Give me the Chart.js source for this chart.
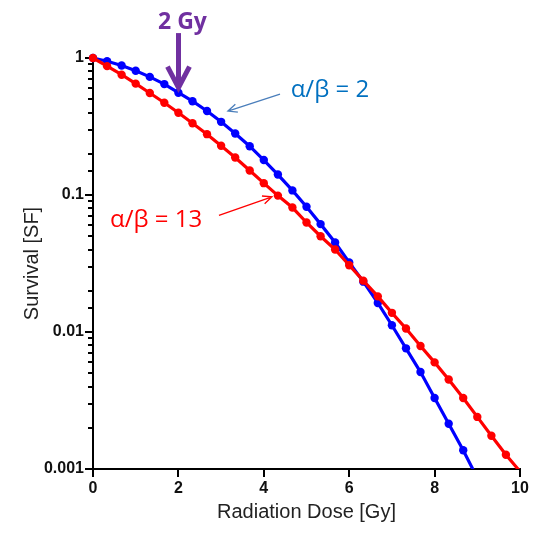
<!DOCTYPE html>
<html>
<head>
<meta charset="utf-8">
<script src="https://cdn.jsdelivr.net/npm/chart.js@4/dist/chart.umd.min.js"></script>
<style>
  html, body { margin: 0; padding: 0; background: #fff; }
  canvas { display: block; }
</style>
</head>
<body>
<canvas id="c" width="558" height="534"></canvas>
<script>
// ---- data ----
const doses = [0, 0.33, 0.67, 1, 1.33, 1.67, 2, 2.33, 2.67, 3, 3.33, 3.67, 4, 4.33, 4.67, 5,
               5.33, 5.67, 6, 6.33, 6.67, 7, 7.33, 7.67, 8, 8.33, 8.67, 9, 9.33, 9.67, 10];
const survivalAB2 = [1, 0.946, 0.881, 0.807, 0.728, 0.645, 0.558, 0.484, 0.410, 0.342, 0.281,
                     0.227, 0.180, 0.141, 0.108, 0.082, 0.0613, 0.0450, 0.0322, 0.0233, 0.0163,
                     0.0112, 0.0076, 0.0051, 0.0033, 0.00214, 0.00137, 0.00086];
const survivalAB13 = [1, 0.872, 0.755, 0.650, 0.555, 0.471, 0.398, 0.334, 0.278, 0.229, 0.188,
                      0.151, 0.122, 0.099, 0.081, 0.063, 0.050, 0.040, 0.0307, 0.0237, 0.0182,
                      0.0138, 0.0106, 0.0079, 0.0060, 0.0045, 0.0033, 0.0024, 0.00175, 0.00127, 0.00096];
const xTickValues = [0, 2, 4, 6, 8, 10];
const yTickLabels = ['0.001', '0.01', '0.1', '1'];
const seriesNames = ['α/β = 2', 'α/β = 13'];
const xTitle = 'Radiation Dose [Gy]';
const yTitle = 'Survival [SF]';
const markerDose = 2;
const markerText = '2 Gy';

// ---- helpers ----
function isPow10(v) {
  const l = Math.log10(v);
  return Math.abs(l - Math.round(l)) < 1e-6;
}
function pts(ys) {
  return ys.map((v, i) => ({ x: doses[i], y: v }));
}
function radii(ys, lastVisible) {
  return ys.map((v, i) => (i <= lastVisible ? 4.2 : 0));
}

const BLUE = '#0000ff';
const RED = '#ff0000';

const axesPlugin = {
  id: 'axes',
  beforeDatasetsDraw(chart) {
    const { ctx, chartArea: a, scales: { x, y } } = chart;
    ctx.save();
    ctx.strokeStyle = '#000';
    ctx.lineWidth = 2;
    ctx.beginPath();
    ctx.moveTo(a.left, a.top);
    ctx.lineTo(a.left, a.bottom);
    ctx.lineTo(a.right + 1, a.bottom);
    ctx.stroke();
    y.ticks.forEach(t => {
      const p = Math.round(y.getPixelForValue(t.value));
      const len = isPow10(t.value) ? 8 : 5;
      ctx.beginPath();
      ctx.moveTo(a.left - len, p);
      ctx.lineTo(a.left, p);
      ctx.stroke();
    });
    x.ticks.forEach(t => {
      const p = Math.round(x.getPixelForValue(t.value));
      ctx.beginPath();
      ctx.moveTo(p, a.bottom);
      ctx.lineTo(p, a.bottom + 8);
      ctx.stroke();
    });
    ctx.restore();
  }
};

// annotation anchors in data units (dose, survival)
const notes = {
  blueLabel: { x: 4.63, y: 0.52 },
  blueArrowFrom: { x: 4.38, y: 0.545 },
  blueArrowTo: { x: 3.16, y: 0.41 },
  redLabel: { x: 0.4, y: 0.058 },
  redArrowFrom: { x: 2.95, y: 0.071 },
  redArrowTo: { x: 4.19, y: 0.097 },
  gyLabelY: 1.64,
  gyArrowTopY: 1.52
};

function thinArrow(ctx, x1, y1, x2, y2, color) {
  const ang = Math.atan2(y2 - y1, x2 - x1);
  const h = 10, s = 0.42;
  ctx.save();
  ctx.strokeStyle = color;
  ctx.lineWidth = 1.3;
  ctx.beginPath();
  ctx.moveTo(x1, y1);
  ctx.lineTo(x2, y2);
  ctx.moveTo(x2 - h * Math.cos(ang - s), y2 - h * Math.sin(ang - s));
  ctx.lineTo(x2, y2);
  ctx.lineTo(x2 - h * Math.cos(ang + s), y2 - h * Math.sin(ang + s));
  ctx.stroke();
  ctx.restore();
}

const notesPlugin = {
  id: 'notes',
  afterDraw(chart) {
    const { ctx, scales: { x, y } } = chart;
    const px = p => [x.getPixelForValue(p.x), y.getPixelForValue(p.y)];
    ctx.save();
    // blue label + arrow
    ctx.font = '24px "Open Sans"';
    ctx.textBaseline = 'alphabetic';
    ctx.textAlign = 'left';
    let [lx, ly] = px(notes.blueLabel);
    ctx.fillStyle = '#0070c0';
    ctx.fillText(seriesNames[0], lx, ly);
    let [ax1, ay1] = px(notes.blueArrowFrom);
    let [ax2, ay2] = px(notes.blueArrowTo);
    thinArrow(ctx, ax1, ay1, ax2, ay2, '#4a7ebb');
    // red label + arrow
    [lx, ly] = px(notes.redLabel);
    ctx.fillStyle = '#ff0000';
    ctx.fillText(seriesNames[1], lx, ly);
    [ax1, ay1] = px(notes.redArrowFrom);
    [ax2, ay2] = px(notes.redArrowTo);
    thinArrow(ctx, ax1, ay1, ax2, ay2, '#ff0000');
    // 2 Gy marker
    const gx = Math.round(x.getPixelForValue(markerDose)) + 0.5;
    const tipY = y.getPixelForValue(survivalAB2[doses.indexOf(markerDose)]) - 5;
    const topY = y.getPixelForValue(notes.gyArrowTopY);
    ctx.fillStyle = '#7030a0';
    ctx.font = 'bold 23px "Open Sans"';
    ctx.textAlign = 'center';
    ctx.fillText(markerText, gx + 4, y.getPixelForValue(notes.gyLabelY));
    ctx.strokeStyle = '#7030a0';
    ctx.lineWidth = 5;
    ctx.lineJoin = 'miter';
    ctx.beginPath();
    ctx.moveTo(gx, topY);
    ctx.lineTo(gx, tipY - 2);
    ctx.stroke();
    ctx.beginPath();
    ctx.moveTo(gx - 11, tipY - 21);
    ctx.lineTo(gx, tipY);
    ctx.lineTo(gx + 11, tipY - 21);
    ctx.stroke();
    ctx.restore();
  }
};

const tickFont = { family: '"Liberation Sans", Arial, sans-serif', size: 16, weight: 'bold' };
const titleFont = { family: '"Liberation Sans", Arial, sans-serif', size: 20 };

new Chart(document.getElementById('c'), {
  type: 'line',
  data: {
    datasets: [
      {
        label: seriesNames[1],
        data: pts(survivalAB13),
        borderColor: RED,
        backgroundColor: RED,
        pointBackgroundColor: RED,
        pointBorderWidth: 0,
        pointRadius: radii(survivalAB13, survivalAB13.length - 2),
        borderWidth: 3.2,
        tension: 0,
        order: 0,
        clip: { left: 10, top: 10, right: 10, bottom: 0 }
      },
      {
        label: seriesNames[0],
        data: pts(survivalAB2),
        borderColor: BLUE,
        backgroundColor: BLUE,
        pointBackgroundColor: BLUE,
        pointBorderWidth: 0,
        pointRadius: radii(survivalAB2, survivalAB2.length - 2),
        borderWidth: 3.2,
        tension: 0,
        order: 1,
        clip: { left: 10, top: 10, right: 10, bottom: 0 }
      }
    ]
  },
  options: {
    responsive: false,
    animation: false,
    layout: { padding: { top: 58, right: 38, left: 0, bottom: 0 } },
    plugins: { legend: { display: false }, tooltip: { enabled: false } },
    scales: {
      x: {
        type: 'linear',
        min: 0,
        max: 10,
        afterBuildTicks: s => { s.ticks = xTickValues.map(v => ({ value: v })); },
        ticks: { font: tickFont, color: '#111', padding: 10, maxRotation: 0, autoSkip: false },
        grid: { display: false, drawTicks: false },
        border: { display: false },
        title: { display: true, text: xTitle, font: titleFont, color: '#222', padding: { top: 0, bottom: 10 } },
        afterFit: s => { s.height = 65; }
      },
      y: {
        type: 'logarithmic',
        min: 0.001,
        max: 1,
        ticks: {
          font: tickFont,
          color: '#111',
          padding: 9,
          autoSkip: false,
          callback: v => {
            if (!isPow10(v)) return '';
            const idx = Math.round(Math.log10(v)) + 3;
            return yTickLabels[idx];
          }
        },
        grid: { display: false, drawTicks: false },
        border: { display: false },
        title: { display: true, text: yTitle, font: titleFont, color: '#222', padding: { top: 20, bottom: 0 } },
        afterFit: s => { s.width = 93; }
      }
    }
  },
  plugins: [axesPlugin, notesPlugin]
});
</script>
</body>
</html>
